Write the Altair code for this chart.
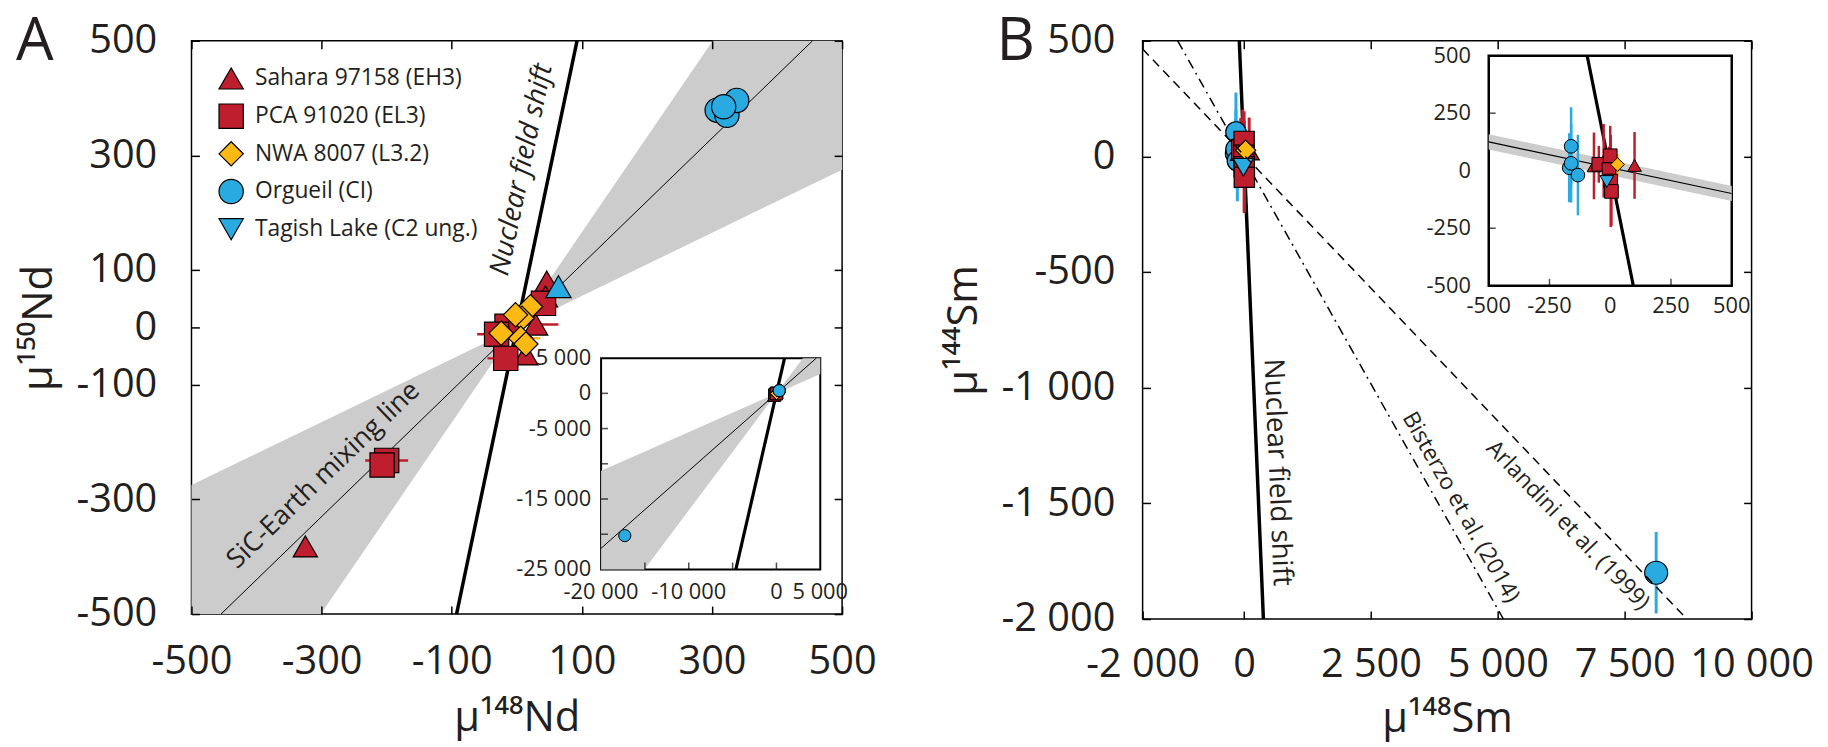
import altair as alt
import pandas as pd

FONT = "Open Sans"
INK = "#231f20"
RED = "#be1e2d"
YELLOW = "#fdb913"
BLUE = "#29abe2"
GREY = "#cccccc"

SAMPLES = ["Sahara 97158 (EH3)", "PCA 91020 (EL3)", "NWA 8007 (L3.2)",
           "Orgueil (CI)", "Tagish Lake (C2 ung.)"]
SAMPLE_FILLS = [RED, RED, YELLOW, BLUE, BLUE]
SAMPLE_SHAPES = ["triangle-up", "square", "diamond", "circle", "triangle-down"]

# ---------------- Panel A : main plot ----------------
A_X_DOMAIN = [-500, 500]
A_Y_DOMAIN = [-500, 500]
A_X_TICKS = [-500, -300, -100, 100, 300, 500]
A_Y_TICKS = [-500, -300, -100, 0, 100, 300, 500]

a_sample = (["Sahara 97158 (EH3)"] * 5 + ["PCA 91020 (EL3)"] * 6 +
            ["NWA 8007 (L3.2)"] * 6 + ["Orgueil (CI)"] * 4)
a_nd148 = [-325, 46, 44, 29, 14,
           -200, -207, 41, -15, -31, -17,
           21, 8, -2, -24, 6, 14,
           308, 323, 338, 318]
a_nd150 = [-382, 80, 54, 5, -47,
           -232, -240, 42, 2, -12, -54,
           36, 16, 22, -10, -19, -29,
           379, 370, 396, 385]
a_err148 = [0, 0, 0, 35, 0,
            33, 0, 0, 0, 30, 28,
            0, 0, 0, 0, 30, 0,
            0, 0, 0, 0]
a_tagish148 = [64]
a_tagish150 = [71]

SIC_SLOPE = 1.1
SIC_SLOPE_LOW = 0.55
SIC_SLOPE_HIGH = 1.66
NFS_A_SLOPE = 5.4

a_text_label = ["Nuclear field shift", "SiC-Earth mixing line"]
a_text_x = [8, -297]
a_text_y = [275, -258]

# ---------------- Panel A : inset ----------------
AI_X_DOMAIN = [-20000, 5000]
AI_Y_DOMAIN = [-25000, 5000]
AI_X_TICKS = [-15000, -10000, -5000, 0]
AI_X_LABELS = [-20000, -10000, 0, 5000]
AI_Y_TICKS = [-20000, -15000, -10000, -5000, 0]
AI_Y_LABELS = [-25000, -15000, -5000, 0, 5000]
ai_sample = ["Orgueil (CI)"]
ai_nd148 = [-17300]
ai_nd150 = [-20200]

# ---------------- Panel B : main plot ----------------
B_X_DOMAIN = [-2000, 10000]
B_Y_DOMAIN = [-2000, 500]
B_X_TICKS = [-2000, 0, 2500, 5000, 7500, 10000]
B_Y_TICKS = [-2000, -1500, -1000, -500, 0, 500]

b_sample = (["Orgueil (CI)"] * 4 + ["Sahara 97158 (EH3)"] * 3 +
            ["PCA 91020 (EL3)"] * 5 + ["NWA 8007 (L3.2)"] + ["Tagish Lake (C2 ung.)"])
b_sm148 = [-169, -161, -161, -133,
           -67, -27, 100,
           -47, 0, -5, 2, 5,
           30,
           -14]
b_sm144 = [13, 106, 32, -19,
           21, 43, 23,
           28, 65, 5, -45, -90,
           27,
           -47]
b_err144 = [150, 170, 170, 175,
            145, 160, 145,
            80, 130, 100, 200, 150,
            45,
            60]
b_big_sample = ["Orgueil (CI)"]
b_big_sm148 = [8120]
b_big_sm144 = [-1800]
b_big_err144 = [176]

NFS_B_DXDY = -0.19          # x = k * y for the nuclear field shift line
BISTERZO_SLOPE, BISTERZO_ICPT = -0.3895, -10
ARLANDINI_SLOPE, ARLANDINI_ICPT = -0.2298, 5

b_text_label = ["Nuclear field shift", "Bisterzo et al. (2014)", "Arlandini et al. (1999)"]
b_text_x = [650, 4270, 6380]
b_text_y = [-1366, -1517, -1595]
b_text_angle = [87.6, 60.5, 46.2]
b_text_size = [28, 23, 23]

# ---------------- Panel B : inset ----------------
BI_X_DOMAIN = [-500, 500]
BI_Y_DOMAIN = [-500, 500]
BI_TICKS = [-250, 250]
BI_LABELS = [-500, -250, 0, 250, 500]
BI_LINE_SLOPE, BI_LINE_ICPT, BI_BAND = -0.224, 13, 33

# ---------------- layout (pixels) ----------------
A_W, A_H = 656, 578
AI_XR, AI_YR = [413, 634], [533, 320]
B_W, B_H = 614, 583
BI_XR, BI_YR = [349, 594], [247, 15]
LEG_X_SYMBOL, LEG_X_TEXT = 40, 64
LEG_Y_RANGE = [38, 190]


# ---------------- helpers ----------------
def clip_line(m, c, xd, yd):
    xlo, xhi = xd
    ylo, yhi = yd
    if m != 0:
        xa, xb = (ylo - c) / m, (yhi - c) / m
        lo, hi = max(xlo, min(xa, xb)), min(xhi, max(xa, xb))
    else:
        lo, hi = xlo, xhi
    return pd.DataFrame({"x": [lo, hi], "y": [m * lo + c, m * hi + c]})


def cone(s1, s2, xd, yd):
    xlo, xhi = xd
    ylo, yhi = yd
    pts = {xlo, xhi, 0.0}
    for s in (s1, s2):
        for yb in (ylo, yhi):
            xb = yb / s
            if xlo < xb < xhi:
                pts.add(xb)
    xs = sorted(pts)
    cl = lambda v: min(yhi, max(ylo, v))
    return pd.DataFrame({"x": xs,
                         "lo": [cl(min(s1 * x, s2 * x)) for x in xs],
                         "hi": [cl(max(s1 * x, s2 * x)) for x in xs]})


def num(v):
    return f"{v:,}".replace(",", " ")


def fmt_expr():
    return "replace(replace(format(datum.value, ','), ',', ' '), '\u2212', '-')"


def make_axis(orient, values, tick=8, labels=True, fs=40, pad=10, title=None,
              tfs=42, tpad=10):
    d = dict(orient=orient, values=values, domain=False, grid=False, ticks=True,
             tickSize=tick, tickWidth=1.5, tickColor="black", offset=-tick,
             labels=labels, zindex=1, title=title)
    if labels:
        d.update(labelExpr=fmt_expr(), labelFont=FONT, labelFontSize=fs,
                 labelColor=INK, labelPadding=pad, labelFlush=False, labelOverlap=False)
    if title:
        d.update(titleFont=FONT, titleFontSize=tfs, titleFontWeight="normal",
                 titleColor=INK, titlePadding=tpad)
    return alt.Axis(**d)


def lin(domain, rng=None):
    if rng is None:
        return alt.Scale(domain=domain, nice=False, zero=False)
    return alt.Scale(domain=domain, range=rng, nice=False, zero=False)


def enc_xy(sx, sy, xf="x:Q", yf="y:Q"):
    return dict(x=alt.X(xf, scale=sx, axis=None), y=alt.Y(yf, scale=sy, axis=None))


fill_scale = alt.Scale(domain=SAMPLES, range=SAMPLE_FILLS)
shape_scale = alt.Scale(domain=SAMPLES, range=SAMPLE_SHAPES)


def panel_letter(letter, xd, yd, sx, sy, dx):
    df = pd.DataFrame({"x": [xd[0]], "y": [yd[1]], "t": [letter]})
    return alt.Chart(df).mark_text(font=FONT, fontSize=60, color=INK, align="center",
                                   baseline="top", dx=dx, dy=-28).encode(
        text="t:N", **enc_xy(sx, sy))


def inset_guides(sx, sy, xd, yd, xticks, yticks, xlabels, ylabels, fs, xpad, ypad):
    """tick marks and labels of an inset frame, placed by the inset scales"""
    layers = []
    bt = pd.DataFrame({"x": xticks, "y": [yd[0]] * len(xticks)})
    layers.append(alt.Chart(bt).mark_tick(orient="vertical", size=7, thickness=1.5,
                                          color="black", yOffset=-3.5).encode(**enc_xy(sx, sy)))
    lt = pd.DataFrame({"x": [xd[0]] * len(yticks), "y": yticks})
    layers.append(alt.Chart(lt).mark_tick(orient="horizontal", size=7, thickness=1.5,
                                          color="black", xOffset=3.5).encode(**enc_xy(sx, sy)))
    bl = pd.DataFrame({"x": xlabels, "y": [yd[0]] * len(xlabels),
                       "t": [num(v) for v in xlabels]})
    layers.append(alt.Chart(bl).mark_text(font=FONT, fontSize=fs, color=INK, align="center",
                                          baseline="top", dy=xpad).encode(
        text="t:N", **enc_xy(sx, sy)))
    ll = pd.DataFrame({"x": [xd[0]] * len(ylabels), "y": ylabels,
                       "t": [num(v) for v in ylabels]})
    layers.append(alt.Chart(ll).mark_text(font=FONT, fontSize=fs, color=INK, align="right",
                                          baseline="middle", dx=-ypad).encode(
        text="t:N", **enc_xy(sx, sy)))
    return layers


# ================= Panel A =================
dfA = pd.DataFrame({"sample": a_sample, "x": a_nd148, "y": a_nd150, "err": a_err148})
dfA_tl = pd.DataFrame({"x": a_tagish148, "y": a_tagish150})
dfA_txt = pd.DataFrame({"label": a_text_label, "x": a_text_x, "y": a_text_y})

sxA, syA = lin(A_X_DOMAIN), lin(A_Y_DOMAIN)

a_cone = alt.Chart(cone(SIC_SLOPE_LOW, SIC_SLOPE_HIGH, A_X_DOMAIN, A_Y_DOMAIN)).mark_area(
    color=GREY).encode(
    x=alt.X("x:Q", scale=sxA, axis=make_axis("bottom", A_X_TICKS, pad=28,
                                             title="μ¹⁴⁸Nd", tpad=16)),
    y=alt.Y("lo:Q", scale=syA, axis=make_axis("left", A_Y_TICKS, pad=35,
                                            title="μ¹⁵⁰Nd", tpad=16)),
    y2="hi:Q")
a_sic = alt.Chart(clip_line(SIC_SLOPE, 0, A_X_DOMAIN, A_Y_DOMAIN)).mark_line(
    color="black", strokeWidth=1).encode(
    x=alt.X("x:Q", scale=sxA, axis=make_axis("top", A_X_TICKS, labels=False)),
    y=alt.Y("y:Q", scale=syA, axis=make_axis("right", A_Y_TICKS, labels=False)))
a_nfs = alt.Chart(clip_line(NFS_A_SLOPE, 0, A_X_DOMAIN, A_Y_DOMAIN)).mark_line(
    color="black", strokeWidth=3.5).encode(**enc_xy(sxA, syA))
a_err = alt.Chart(dfA).transform_filter("datum.err > 0").transform_calculate(
    x1="datum.x - datum.err", x2="datum.x + datum.err").mark_rule(strokeWidth=2.5).encode(
    x=alt.X("x1:Q", scale=sxA, axis=None), x2="x2:Q",
    y=alt.Y("y:Q", scale=syA, axis=None),
    color=alt.Color("sample:N", scale=fill_scale, legend=None))
a_pts = alt.Chart(dfA).mark_point(filled=True, opacity=1, stroke="black",
                                  strokeWidth=1.2, size=600).encode(
    fill=alt.Fill("sample:N", scale=fill_scale, legend=None),
    shape=alt.Shape("sample:N", scale=shape_scale, legend=None),
    **enc_xy(sxA, syA))
a_tl = alt.Chart(dfA_tl).mark_point(filled=True, opacity=1, stroke="black",
                                    strokeWidth=1.2, size=650, shape="triangle-up",
                                    fill=BLUE).encode(**enc_xy(sxA, syA))
a_txt1 = alt.Chart(dfA_txt.iloc[[0]]).mark_text(
    font=FONT, fontSize=28, fontStyle="italic", color=INK, angle=281.8,
    align="center", baseline="middle").encode(text="label:N", **enc_xy(sxA, syA))
a_txt2 = alt.Chart(dfA_txt.iloc[[1]]).mark_text(
    font=FONT, fontSize=27, color=INK, angle=316,
    align="center", baseline="middle").encode(text="label:N", **enc_xy(sxA, syA))
a_letter = panel_letter("A", A_X_DOMAIN, A_Y_DOMAIN, sxA, syA, dx=-158)

mainA = alt.layer(a_cone, a_sic, a_nfs, a_err, a_pts, a_tl, a_txt1, a_txt2,
                  a_letter).resolve_axis(x="independent", y="independent")

# legend of panel A (one entry per sample)
dfLeg = pd.DataFrame({"sample": SAMPLES, "row": list(range(len(SAMPLES))),
                      "x": [A_X_DOMAIN[0]] * len(SAMPLES)})
syLeg = alt.Scale(domain=[0, len(SAMPLES) - 1], range=LEG_Y_RANGE, nice=False, zero=False)
leg_sym = alt.Chart(dfLeg).mark_point(filled=True, opacity=1, stroke="black",
                                      strokeWidth=1.2, size=600,
                                      xOffset=LEG_X_SYMBOL).encode(
    fill=alt.Fill("sample:N", scale=fill_scale, legend=None),
    shape=alt.Shape("sample:N", scale=shape_scale, legend=None),
    **enc_xy(lin(A_X_DOMAIN), syLeg, yf="row:Q"))
leg_txt = alt.Chart(dfLeg).mark_text(font=FONT, fontSize=23, color=INK, align="left",
                                     baseline="middle", xOffset=LEG_X_TEXT).encode(
    text="sample:N", **enc_xy(lin(A_X_DOMAIN), syLeg, yf="row:Q"))
legendA = alt.layer(leg_sym, leg_txt)

# inset A
sxAI, syAI = lin(AI_X_DOMAIN, AI_XR), lin(AI_Y_DOMAIN, AI_YR)
frameAI = pd.DataFrame({"x1": [AI_X_DOMAIN[0]], "x2": [AI_X_DOMAIN[1]],
                        "y1": [AI_Y_DOMAIN[0]], "y2": [AI_Y_DOMAIN[1]]})
ai_frame = alt.Chart(frameAI).mark_rect(fill="white", stroke="black", strokeWidth=2).encode(
    x=alt.X("x1:Q", scale=sxAI, axis=None), x2="x2:Q",
    y=alt.Y("y1:Q", scale=syAI, axis=None), y2="y2:Q")
ai_cone = alt.Chart(cone(SIC_SLOPE_LOW, SIC_SLOPE_HIGH, AI_X_DOMAIN, AI_Y_DOMAIN)).mark_area(
    color=GREY).encode(y2="hi:Q", **enc_xy(sxAI, syAI, yf="lo:Q"))
ai_sic = alt.Chart(clip_line(SIC_SLOPE, 0, AI_X_DOMAIN, AI_Y_DOMAIN)).mark_line(
    color="black", strokeWidth=1).encode(**enc_xy(sxAI, syAI))
ai_nfs = alt.Chart(clip_line(NFS_A_SLOPE, 0, AI_X_DOMAIN, AI_Y_DOMAIN)).mark_line(
    color="black", strokeWidth=3.2).encode(**enc_xy(sxAI, syAI))
dfAI = pd.concat([dfA[["sample", "x", "y"]],
                  pd.DataFrame({"sample": ai_sample, "x": ai_nd148, "y": ai_nd150})],
                 ignore_index=True)
ai_pts = alt.Chart(dfAI).mark_point(filled=True, opacity=1, stroke="black",
                                    strokeWidth=1, size=150).encode(
    fill=alt.Fill("sample:N", scale=fill_scale, legend=None),
    shape=alt.Shape("sample:N", scale=shape_scale, legend=None),
    **enc_xy(sxAI, syAI))
ai_guides = inset_guides(sxAI, syAI, AI_X_DOMAIN, AI_Y_DOMAIN, AI_X_TICKS, AI_Y_TICKS,
                         AI_X_LABELS, AI_Y_LABELS, fs=22, xpad=13, ypad=10)
insetA = alt.layer(ai_frame, ai_cone, ai_sic, ai_nfs, ai_pts, *ai_guides)

panelA = alt.layer(mainA, legendA, insetA).resolve_scale(
    x="independent", y="independent", fill="independent", shape="independent",
    color="independent").properties(width=A_W, height=A_H)

# ================= Panel B =================
dfB = pd.DataFrame({"sample": b_sample, "x": b_sm148, "y": b_sm144, "err": b_err144})
dfB_all = pd.concat([dfB, pd.DataFrame({"sample": b_big_sample, "x": b_big_sm148,
                                        "y": b_big_sm144, "err": b_big_err144})],
                    ignore_index=True)
dfB_txt = pd.DataFrame({"label": b_text_label, "x": b_text_x, "y": b_text_y})

sxB, syB = lin(B_X_DOMAIN), lin(B_Y_DOMAIN)

nfsB_line = clip_line(1 / NFS_B_DXDY, 0, B_X_DOMAIN, B_Y_DOMAIN)
b_nfs = alt.Chart(nfsB_line).mark_line(color="black", strokeWidth=3.5).encode(
    x=alt.X("x:Q", scale=sxB, axis=make_axis("bottom", B_X_TICKS, pad=26,
                                             title="μ¹⁴⁸Sm", tpad=14)),
    y=alt.Y("y:Q", scale=syB, axis=make_axis("left", B_Y_TICKS, pad=28,
                                           title="μ¹⁴⁴Sm", tpad=16)))
b_bis = alt.Chart(clip_line(BISTERZO_SLOPE, BISTERZO_ICPT, B_X_DOMAIN, B_Y_DOMAIN)).mark_line(
    color="black", strokeWidth=1.5, strokeDash=[10, 5, 2, 5]).encode(
    x=alt.X("x:Q", scale=sxB, axis=make_axis("top", B_X_TICKS, labels=False)),
    y=alt.Y("y:Q", scale=syB, axis=make_axis("right", B_Y_TICKS, labels=False)))
b_arl = alt.Chart(clip_line(ARLANDINI_SLOPE, ARLANDINI_ICPT, B_X_DOMAIN, B_Y_DOMAIN)).mark_line(
    color="black", strokeWidth=1.5, strokeDash=[9, 6]).encode(**enc_xy(sxB, syB))
b_err = alt.Chart(dfB_all).transform_calculate(
    y1="datum.y - datum.err", y2="datum.y + datum.err").mark_rule(strokeWidth=3).encode(
    x=alt.X("x:Q", scale=sxB, axis=None),
    y=alt.Y("y1:Q", scale=syB, axis=None), y2="y2:Q",
    color=alt.Color("sample:N", scale=fill_scale, legend=None))
b_pts = alt.Chart(dfB).mark_point(filled=True, opacity=1, stroke="black",
                                  strokeWidth=1.2, size=420).encode(
    fill=alt.Fill("sample:N", scale=fill_scale, legend=None),
    shape=alt.Shape("sample:N", scale=shape_scale, legend=None),
    **enc_xy(sxB, syB))
b_big = alt.Chart(dfB_all.iloc[[len(dfB_all) - 1]]).mark_point(
    filled=True, opacity=1, stroke="black", strokeWidth=1.2, size=540).encode(
    fill=alt.Fill("sample:N", scale=fill_scale, legend=None),
    shape=alt.Shape("sample:N", scale=shape_scale, legend=None),
    **enc_xy(sxB, syB))
b_txt_layers = []
for i in range(len(b_text_label)):
    b_txt_layers.append(alt.Chart(dfB_txt.iloc[[i]]).mark_text(
        font=FONT, fontSize=b_text_size[i], color=INK, angle=b_text_angle[i],
        align="center", baseline="middle").encode(text="label:N", **enc_xy(sxB, syB)))
b_letter = panel_letter("B", B_X_DOMAIN, B_Y_DOMAIN, sxB, syB, dx=-128)

mainB = alt.layer(b_nfs, b_bis, b_err, b_pts, b_big, b_arl, *b_txt_layers,
                  b_letter).resolve_axis(x="independent", y="independent")

# inset B
sxBI, syBI = lin(BI_X_DOMAIN, BI_XR), lin(BI_Y_DOMAIN, BI_YR)
frameBI = pd.DataFrame({"x1": [BI_X_DOMAIN[0]], "x2": [BI_X_DOMAIN[1]],
                        "y1": [BI_Y_DOMAIN[0]], "y2": [BI_Y_DOMAIN[1]]})
bi_frame = alt.Chart(frameBI).mark_rect(fill="white", stroke="black", strokeWidth=2.5).encode(
    x=alt.X("x1:Q", scale=sxBI, axis=None), x2="x2:Q",
    y=alt.Y("y1:Q", scale=syBI, axis=None), y2="y2:Q")
band_x = BI_X_DOMAIN
bandBI = pd.DataFrame({"x": band_x,
                       "lo": [BI_LINE_SLOPE * x + BI_LINE_ICPT - BI_BAND for x in band_x],
                       "hi": [BI_LINE_SLOPE * x + BI_LINE_ICPT + BI_BAND for x in band_x]})
bi_band = alt.Chart(bandBI).mark_area(color=GREY).encode(
    y2="hi:Q", **enc_xy(sxBI, syBI, yf="lo:Q"))
bi_line = alt.Chart(clip_line(BI_LINE_SLOPE, BI_LINE_ICPT, BI_X_DOMAIN, BI_Y_DOMAIN)).mark_line(
    color="black", strokeWidth=1.2).encode(**enc_xy(sxBI, syBI))
bi_nfs = alt.Chart(clip_line(1 / NFS_B_DXDY, 0, BI_X_DOMAIN, BI_Y_DOMAIN)).mark_line(
    color="black", strokeWidth=3.2).encode(**enc_xy(sxBI, syBI))
bi_err = alt.Chart(dfB).transform_calculate(
    y1="datum.y - datum.err", y2="datum.y + datum.err").mark_rule(strokeWidth=2.5).encode(
    x=alt.X("x:Q", scale=sxBI, axis=None),
    y=alt.Y("y1:Q", scale=syBI, axis=None), y2="y2:Q",
    color=alt.Color("sample:N", scale=fill_scale, legend=None))
bi_pts = alt.Chart(dfB).mark_point(filled=True, opacity=1, stroke="black",
                                   strokeWidth=1, size=190).encode(
    fill=alt.Fill("sample:N", scale=fill_scale, legend=None),
    shape=alt.Shape("sample:N", scale=shape_scale, legend=None),
    **enc_xy(sxBI, syBI))
bi_guides = inset_guides(sxBI, syBI, BI_X_DOMAIN, BI_Y_DOMAIN, BI_TICKS, BI_TICKS,
                         BI_LABELS, BI_LABELS, fs=22, xpad=10, ypad=18)
insetB = alt.layer(bi_frame, bi_band, bi_line, bi_nfs, bi_err, bi_pts, *bi_guides)

panelB = alt.layer(mainB, insetB).resolve_scale(
    x="independent", y="independent", fill="independent", shape="independent",
    color="independent").properties(width=B_W, height=B_H)

chart = alt.hconcat(panelA, panelB, spacing=64).resolve_scale(
    fill="independent", shape="independent", color="independent").configure_view(
    stroke="black", strokeWidth=1.5).properties(
    padding={"left": 7, "top": 0, "right": 5, "bottom": 5})

chart.save("out.html", embed_options={"renderer": "svg", "actions": False})
